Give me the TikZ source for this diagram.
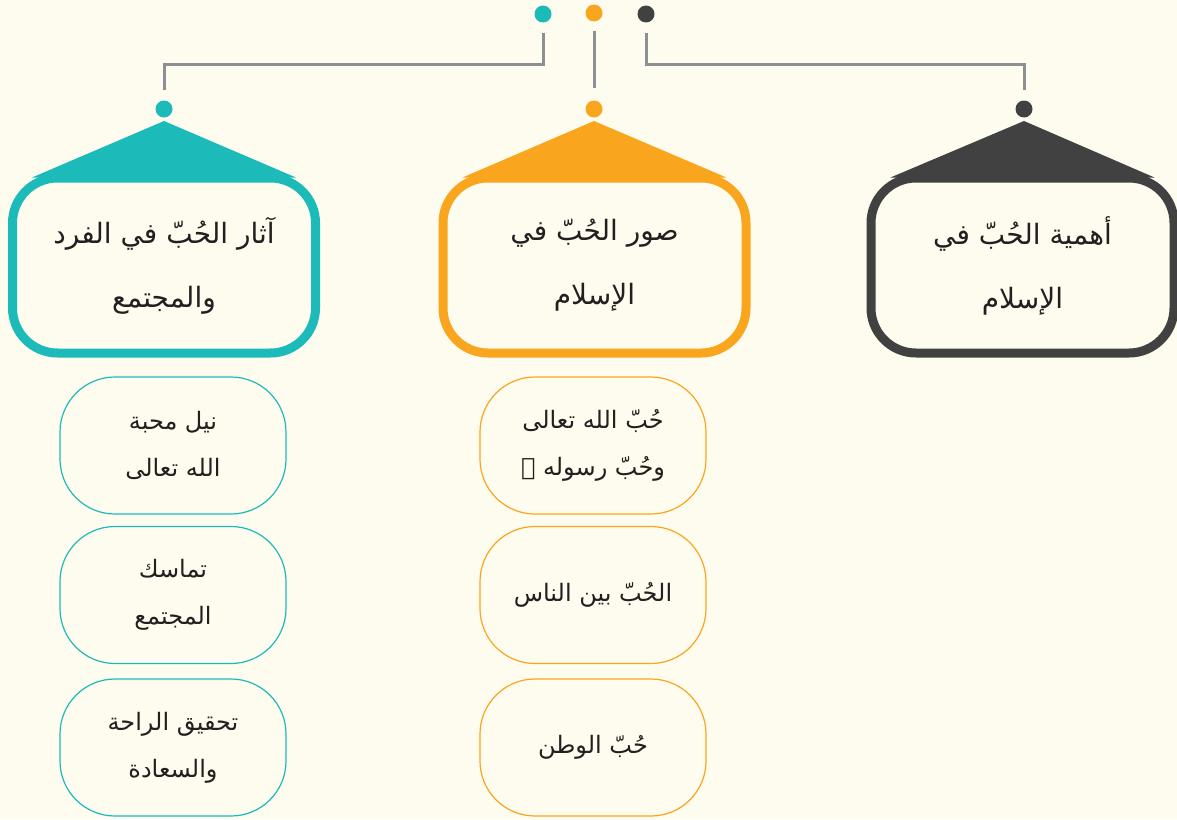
\documentclass[tikz,border=0pt]{standalone}
\usepackage{fontspec}
\newfontfamily\arabicfont[Script=Arabic]{DejaVu Sans}
\TeXXeTstate=1
\newcommand\arl[1]{\beginR#1\endR}
\definecolor{bgcream}{HTML}{FEFCEF}
\definecolor{tealc}{HTML}{1CBBBA}
\definecolor{orangec}{HTML}{F9A61E}
\definecolor{darkc}{HTML}{414141}
\definecolor{linkgray}{HTML}{8C9094}
\definecolor{ink}{HTML}{231F20}
\begin{document}
\begin{tikzpicture}[x=1pt,y=-1pt,
  dot/.style={circle,fill=#1,minimum size=17pt,inner sep=0pt},
  headbox/.style={draw=#1,line width=9pt,rectangle,rounded corners=45pt,
    minimum width=303pt,minimum height=175pt,inner sep=0pt,
    text=ink,align=center,font=\arabicfont\fontsize{28}{64}\selectfont},
  itembox/.style={draw=#1,line width=1.2pt,rectangle,rounded corners=55pt,
    minimum width=226pt,minimum height=137pt,inner sep=0pt,
    text=ink,align=center,font=\arabicfont\fontsize{24}{47}\selectfont},
  conn/.style={draw=linkgray,line width=3pt,shorten <=10pt,shorten >=10pt},
  roof/.style={fill=#1}]
\fill[bgcream] (0,0) rectangle (1177,819);
\useasboundingbox (0,0) rectangle (1177,819);

% top hub dots
\node[dot=tealc]   (tt) at (543,14) {};
\node[dot=orangec] (to) at (594,13) {};
\node[dot=darkc]   (td) at (646,14) {};

% branch dots
\node[dot=tealc]   (lt) at (164,109) {};
\node[dot=orangec] (lo) at (594,109) {};
\node[dot=darkc]   (ld) at (1024,109) {};

% connectors
\draw[conn] (tt.south) -- ++(0,42) -| (lt.north);
\draw[conn,shorten <=9pt,shorten >=12pt] (to.south) -- (lo.north);
\draw[conn] (td.south) -- ++(0,42) -| (ld.north);

% header boxes
\node[headbox=tealc] (h1) at (164,265.5)
  {\arl{آثار الحُبّ في الفرد}\\\arl{والمجتمع}};
\node[headbox=orangec] (h2) at (594.5,265.5)
  {\arl{صور الحُبّ في}\\\arl{الإسلام}};
\node[headbox=darkc] (h3) at (1022.5,265.5)
  {\arl{أهمية الحُبّ في}\\\arl{الإسلام}};

% roofs above the header boxes
\coordinate (a1) at (164,121);
\coordinate (a2) at (594,121);
\coordinate (a3) at (1024,121);
\fill[roof=tealc] (a1) -- ([shift={(24,4)}]h1.north west) -- ([shift={(-24,4)}]h1.north east) -- cycle;
\fill[roof=orangec] (a2) -- ([shift={(24,4)}]h2.north west) -- ([shift={(-24,4)}]h2.north east) -- cycle;
\fill[roof=darkc] (a3) -- ([shift={(24,4)}]h3.north west) -- ([shift={(-24,4)}]h3.north east) -- cycle;

% items: effects of love
\node[itembox=tealc] (e1) at (173,445.5) {\arl{نيل محبة}\\\arl{الله تعالى}};
\node[itembox=tealc] (e2) at (173,595)   {\arl{تماسك}\\\arl{المجتمع}};
\node[itembox=tealc] (e3) at (173,747.5) {\arl{تحقيق الراحة}\\\arl{والسعادة}};

% items: forms of love
\node[itembox=orangec] (f1) at (593,445.5) {\arl{حُبّ الله تعالى}\\\arl{وحُبّ رسوله ﷺ}};
\node[itembox=orangec] (f2) at (593,595)   {\arl{الحُبّ بين الناس}};
\node[itembox=orangec] (f3) at (593,747.5) {\arl{حُبّ الوطن}};
\end{tikzpicture}
\end{document}
